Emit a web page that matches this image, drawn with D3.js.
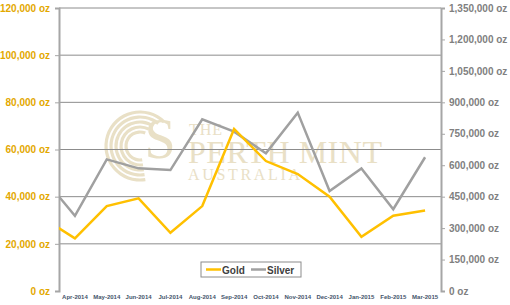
<!DOCTYPE html>
<html>
<head>
<meta charset="utf-8">
<script src="https://cdn.jsdelivr.net/npm/d3@7"></script>
<style>
body { margin: 0; background: #fff; }
svg { display: block; font-family: "Liberation Sans", Arial, sans-serif; }
</style>
</head>
<body>
<div id="chart"></div>
<script>
// months (first one is only partly visible, clipped at the left axis)
var months = ["Mar-2014", "Apr-2014", "May-2014", "Jun-2014", "Jul-2014", "Aug-2014", "Sep-2014",
  "Oct-2014", "Nov-2014", "Dec-2014", "Jan-2015", "Feb-2015", "Mar-2015"];
var gold = [30900, 22300, 36000, 39300, 24700, 36000, 68700, 55100, 49600, 40000, 23000, 31900, 34100];
var silver = [541000, 359000, 628000, 585000, 577000, 819000, 760000, 657000, 851000, 477000, 585000, 390000, 638000];
var leftTicks = [0, 20000, 40000, 60000, 80000, 100000, 120000];
var rightTicks = [0, 150000, 300000, 450000, 600000, 750000, 900000, 1050000, 1200000, 1350000];

var width = 510, height = 305;
var plotL = 59, plotR = 441, plotT = 8, plotB = 291;
var goldColor = "#ffc000", silverColor = "#a0a0a0";

var svg = d3.select("#chart").append("svg")
  .attr("width", width)
  .attr("height", height);

var step = (plotR - plotL) / 12;
var x = d3.scaleBand().domain(months).range([plotL - step, plotR]);
var yL = d3.scaleLinear().domain([0, 120000]).range([plotB, plotT]);
var yR = d3.scaleLinear().domain([0, 1350000]).range([plotB, plotT]);

// watermark
var wm = svg.append("g").attr("fill", "#e9e0c6");
[34, 29, 24, 19, 14].forEach(function (r, i) {
  wm.append("path")
    .attr("d", d3.arc()({ innerRadius: r - 1.6, outerRadius: r + 1.6, startAngle: -Math.PI * 1.05, endAngle: Math.PI * 0.25 - i * 0.1 }))
    .attr("transform", "translate(140,146)");
});
wm.append("text").attr("x", 160).attr("y", 158).attr("text-anchor", "middle")
  .style("font-family", "'Liberation Serif', serif").style("font-size", "56px").text("S");
wm.append("text").attr("x", 189).attr("y", 135)
  .style("font-family", "'Liberation Serif', serif").style("font-size", "16px").style("letter-spacing", "1px").text("THE");
wm.append("text").attr("x", 188).attr("y", 163)
  .style("font-family", "'Liberation Serif', serif").style("font-size", "32px")
  .attr("textLength", 194).text("PERTH MINT");
wm.append("text").attr("x", 188).attr("y", 180)
  .style("font-family", "'Liberation Serif', serif").style("font-size", "16px")
  .attr("textLength", 112).text("AUSTRALIA");

// gridlines
svg.append("g").selectAll("line").data(leftTicks.slice(1)).join("line")
  .attr("x1", plotL).attr("x2", plotR)
  .attr("y1", function (d) { return yL(d); }).attr("y2", function (d) { return yL(d); })
  .attr("stroke", "#8c8c8c").attr("stroke-width", 1);

// left axis
var gl = svg.append("g").attr("transform", "translate(" + plotL + ",0)")
  .call(d3.axisLeft(yL).tickValues(leftTicks).tickSize(4).tickPadding(5)
    .tickFormat(function (d) { return d3.format(",")(d) + " oz"; }));
gl.select(".domain").attr("stroke", "#a6a6a6").attr("stroke-width", 2);
gl.selectAll(".tick line").attr("stroke", "#a6a6a6");
gl.selectAll(".tick text").attr("fill", "#e3a800").style("font-size", "10px").style("font-weight", "bold")
  .style("font-family", "'Liberation Sans', Arial, sans-serif");

// right axis
var gr = svg.append("g").attr("transform", "translate(" + plotR + ",0)")
  .call(d3.axisRight(yR).tickValues(rightTicks).tickSize(4).tickPadding(4)
    .tickFormat(function (d) { return d3.format(",")(d) + " oz"; }));
gr.select(".domain").attr("stroke", "#a6a6a6").attr("stroke-width", 2);
gr.selectAll(".tick line").attr("stroke", "#a6a6a6");
gr.selectAll(".tick text").attr("fill", "#808080").style("font-size", "10px").style("font-weight", "bold")
  .style("font-family", "'Liberation Sans', Arial, sans-serif");

// x axis labels
var gx = svg.append("g").attr("transform", "translate(0," + plotB + ")")
  .call(d3.axisBottom(x).tickValues(months.slice(1)).tickSize(0).tickPadding(4));
gx.select(".domain").remove();
gx.selectAll(".tick text").attr("fill", "#44546a").style("font-size", "6px").style("font-weight", "bold")
  .style("font-family", "'Liberation Sans', Arial, sans-serif");

// lines
svg.append("defs").append("clipPath").attr("id", "plot")
  .append("rect").attr("x", plotL).attr("y", 0).attr("width", plotR - plotL).attr("height", height);

var cx = function (d, i) { return x(months[i]) + x.bandwidth() / 2; };
svg.append("path").datum(silver)
  .attr("d", d3.line().x(cx).y(function (d) { return yR(d); }))
  .attr("fill", "none").attr("stroke", silverColor).attr("stroke-width", 2.5)
  .attr("clip-path", "url(#plot)");
svg.append("path").datum(gold)
  .attr("d", d3.line().x(cx).y(function (d) { return yL(d); }))
  .attr("fill", "none").attr("stroke", goldColor).attr("stroke-width", 2.5)
  .attr("clip-path", "url(#plot)");

// legend
var lg = svg.append("g");
lg.append("rect").attr("x", 201).attr("y", 262).attr("width", 100).attr("height", 15)
  .attr("fill", "#fff").attr("stroke", "#8c8c8c");
var items = [["Gold", goldColor, 206], ["Silver", silverColor, 251]];
items.forEach(function (it) {
  lg.append("line").attr("x1", it[2]).attr("x2", it[2] + 15).attr("y1", 269.5).attr("y2", 269.5)
    .attr("stroke", it[1]).attr("stroke-width", 2.5);
  lg.append("text").attr("x", it[2] + 16).attr("y", 273.5).text(it[0])
    .style("font-size", "10px").style("font-weight", "bold").attr("fill", "#404040");
});
</script>
</body>
</html>
